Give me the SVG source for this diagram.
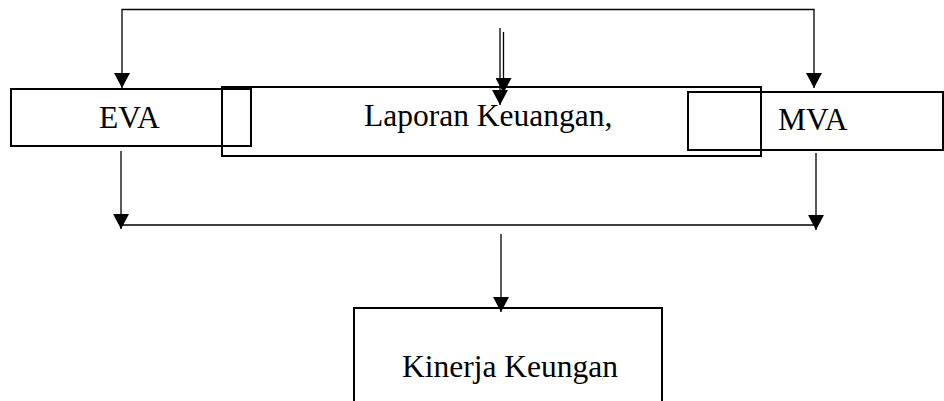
<svg xmlns="http://www.w3.org/2000/svg" width="944" height="401" viewBox="0 0 944 401">
<style>
.box{fill:none;stroke:#000;stroke-width:2}
.ln{fill:none;stroke:#000;stroke-width:1.3}
.t{font-family:"Liberation Serif","Times New Roman",serif;font-size:31.5px;fill:#000}
</style>
<defs>
<marker id="ah" viewBox="0 0 15 16" refX="15" refY="8" markerWidth="15" markerHeight="16" markerUnits="userSpaceOnUse" orient="auto">
<path d="M0,0 L15,8 L0,16 z" fill="#000"/>
</marker>
</defs>
<g id="eva">
<rect class="box" x="11" y="89" width="240" height="57"/>
<text class="t" x="99" y="128">EVA</text>
</g>
<g id="laporan">
<rect class="box" x="222" y="87" width="539" height="69"/>
<text class="t" x="364" y="126">Laporan Keuangan,</text>
</g>
<g id="mva">
<rect class="box" x="688" y="92" width="255" height="58"/>
<text class="t" x="778" y="130">MVA</text>
</g>
<g id="kinerja">
<rect class="box" x="354" y="308" width="308" height="100"/>
<text class="t" x="402" y="377">Kinerja Keungan</text>
</g>
<g id="connectors">
<polyline class="ln" points="468,9.5 122,9.5 122,88" marker-end="url(#ah)"/>
<polyline class="ln" points="468,9.5 814,9.5 814,88" marker-end="url(#ah)"/>
<line class="ln" x1="500" y1="28" x2="500" y2="105" marker-end="url(#ah)"/>
<line class="ln" x1="503.5" y1="32" x2="503.5" y2="93" marker-end="url(#ah)"/>
<line class="ln" x1="121" y1="151" x2="121" y2="229" marker-end="url(#ah)"/>
<line class="ln" x1="816" y1="153" x2="816" y2="230" marker-end="url(#ah)"/>
<line class="ln" x1="121" y1="225" x2="816" y2="225"/>
<line class="ln" x1="501" y1="234" x2="501" y2="312" marker-end="url(#ah)"/>
</g>
</svg>
